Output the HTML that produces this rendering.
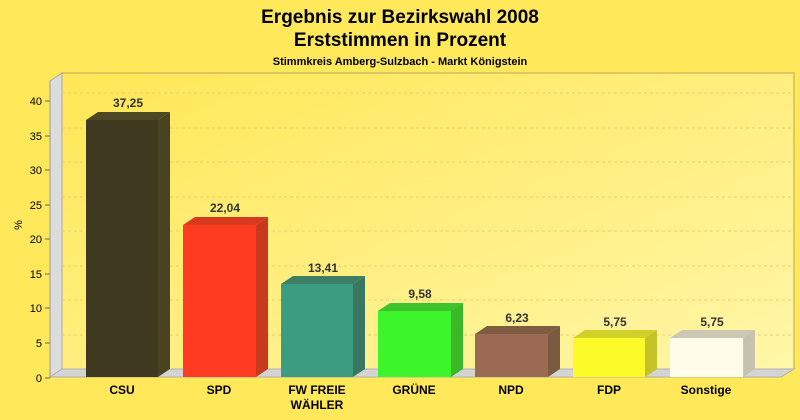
<!DOCTYPE html><html><head><style>body{margin:0}svg{display:block}</style></head><body>
<svg width="800" height="420" xmlns="http://www.w3.org/2000/svg" font-family="Liberation Sans, sans-serif">
<defs><linearGradient id="bg" x1="0" y1="0" x2="1" y2="1"><stop offset="0" stop-color="#ffe650"/><stop offset="1" stop-color="#ffee70"/></linearGradient>
<linearGradient id="wall" x1="0" y1="0" x2="1" y2="1"><stop offset="0" stop-color="#ffe755"/><stop offset="1" stop-color="#fff6a8"/></linearGradient></defs>
<rect width="800" height="420" fill="#ffe95a"/>
<text x="400" y="23" text-anchor="middle" font-size="19" font-weight="bold">Ergebnis zur Bezirkswahl 2008</text>
<text x="400" y="46" text-anchor="middle" font-size="19" font-weight="bold">Erststimmen in Prozent</text>
<text x="400" y="65" text-anchor="middle" font-size="11" font-weight="bold">Stimmkreis Amberg-Sulzbach - Markt Königstein</text>
<rect x="62" y="73" width="732" height="296" fill="url(#wall)" stroke="#b8a860" stroke-width="1"/>
<polygon points="50,81 62,73 62,369 50,377" fill="#dcdcdc" stroke="#a8a8a8"/>
<polygon points="50,377 62,369 794,369 781,377" fill="#d4d4d4" stroke="#b0b0b0"/>
<g stroke="#e0d070" stroke-dasharray="3,3"><line x1="62" y1="93" x2="794" y2="93"/><line x1="62" y1="128" x2="794" y2="128"/><line x1="62" y1="162" x2="794" y2="162"/><line x1="62" y1="197" x2="794" y2="197"/><line x1="62" y1="231" x2="794" y2="231"/><line x1="62" y1="266" x2="794" y2="266"/><line x1="62" y1="300" x2="794" y2="300"/><line x1="62" y1="335" x2="794" y2="335"/></g>
<line x1="50" y1="81" x2="50" y2="378" stroke="#999"/>
<g font-size="11" text-anchor="end"><text x="42" y="105">40</text><text x="42" y="140">35</text><text x="42" y="174">30</text><text x="42" y="209">25</text><text x="42" y="243">20</text><text x="42" y="278">15</text><text x="42" y="312">10</text><text x="42" y="347">5</text><text x="42" y="382">0</text></g>
<g stroke="#666"><line x1="45" y1="101" x2="50" y2="101"/><line x1="45" y1="136" x2="50" y2="136"/><line x1="45" y1="170" x2="50" y2="170"/><line x1="45" y1="205" x2="50" y2="205"/><line x1="45" y1="239" x2="50" y2="239"/><line x1="45" y1="274" x2="50" y2="274"/><line x1="45" y1="308" x2="50" y2="308"/><line x1="45" y1="343" x2="50" y2="343"/><line x1="45" y1="378" x2="50" y2="378"/></g>
<text x="22" y="225" font-size="11" transform="rotate(-90 22 225)" text-anchor="middle">%</text>
<g id="bars" font-size="12" font-weight="bold" fill-opacity="1">
<!-- CSU -->
<polygon points="86,120 98,112 170,112 158,120" fill="#4e4724"/><polygon points="158,120 170,112 170,369 158,377" fill="#4a4322"/><rect x="86" y="120" width="72" height="257" fill="#3f3a1f"/>
<polygon points="183,225 195,217 268,217 256,225" fill="#d83a20"/><polygon points="256,225 268,217 268,369 256,377" fill="#c83a1e"/><rect x="183" y="225" width="73" height="152" fill="#ff3c22"/>
<polygon points="281,284 293,276 365,276 353,284" fill="#3e7e64"/><polygon points="353,284 365,276 365,369 353,377" fill="#3a7760"/><rect x="281" y="284" width="72" height="93" fill="#3c9c82"/>
<polygon points="378,311 390,303 463,303 451,311" fill="#3cc42a"/><polygon points="451,311 463,303 463,369 451,377" fill="#3ab82a"/><rect x="378" y="311" width="73" height="66" fill="#3cf52a"/>
<polygon points="475,334 487,326 560,326 548,334" fill="#7e5c42"/><polygon points="548,334 560,326 560,369 548,377" fill="#7a5a40"/><rect x="475" y="334" width="73" height="43" fill="#9c6a52"/>
<polygon points="573,338 585,330 657,330 645,338" fill="#d0d02a"/><polygon points="645,338 657,330 657,369 645,377" fill="#c4c228"/><rect x="573" y="338" width="72" height="39" fill="#fdfa2a"/>
<polygon points="670,338 682,330 755,330 743,338" fill="#ccc8b4"/><polygon points="743,338 755,330 755,369 743,377" fill="#c6c2ae"/><rect x="670" y="338" width="73" height="39" fill="#fffcea"/>
</g>
<g font-size="12" font-weight="bold" fill="#333" text-anchor="middle"><text x="128" y="107">37,25</text><text x="225" y="212">22,04</text><text x="323" y="272">13,41</text><text x="420" y="298">9,58</text><text x="517" y="322">6,23</text><text x="615" y="326">5,75</text><text x="712" y="326">5,75</text></g>
<g font-size="12" font-weight="bold" text-anchor="middle"><text x="122" y="394">CSU</text><text x="219" y="394">SPD</text><text x="317" y="394">FW FREIE</text><text x="317" y="409">WÄHLER</text><text x="414" y="394">GRÜNE</text><text x="511" y="394">NPD</text><text x="609" y="394">FDP</text><text x="706" y="394">Sonstige</text></g>
</svg></body></html>
